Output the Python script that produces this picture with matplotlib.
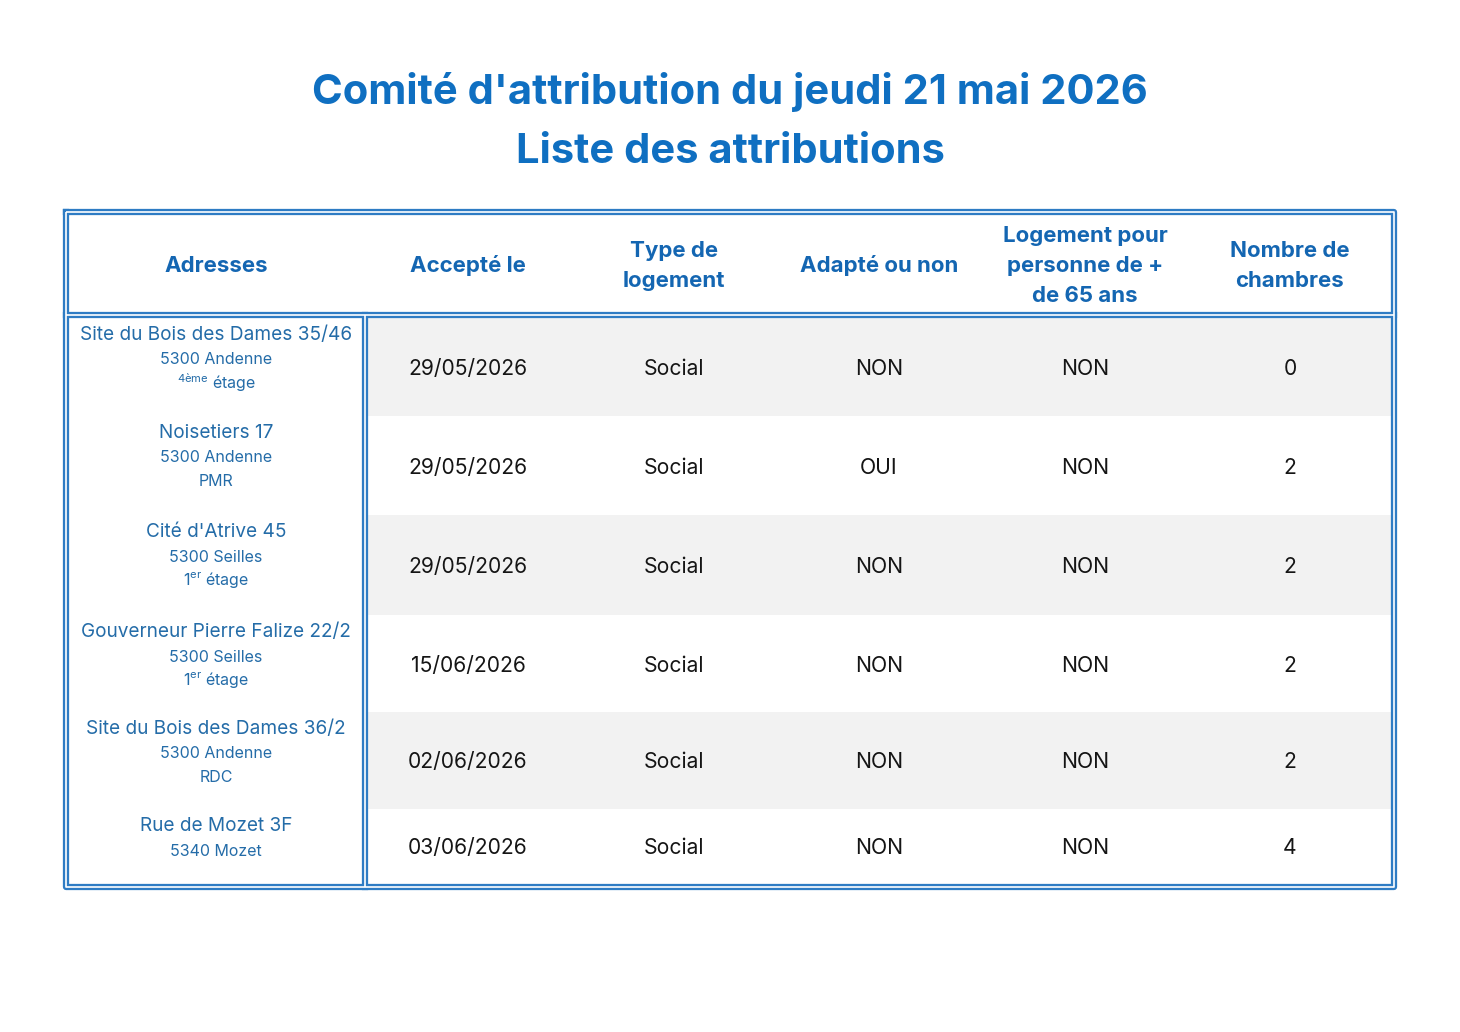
import matplotlib
matplotlib.use("Agg")
import matplotlib.pyplot as plt

FONT = "Inter"
plt.rcParams['font.family'] = [FONT, 'DejaVu Sans']
plt.rcParams['mathtext.fontset'] = 'custom'
plt.rcParams['mathtext.rm'] = FONT
plt.rcParams['mathtext.it'] = FONT
plt.rcParams['mathtext.bf'] = FONT + ':bold'

title_lines = ["Comité d'attribution du jeudi 21 mai 2026", "Liste des attributions"]
headers = ["Adresses", "Accepté le", "Type de\nlogement", "Adapté ou non",
           "Logement pour\npersonne de +\nde 65 ans", "Nombre de\nchambres"]
addr_street = ["Site du Bois des Dames 35/46", "Noisetiers 17", "Cité d'Atrive 45",
               "Gouverneur Pierre Falize 22/2", "Site du Bois des Dames 36/2", "Rue de Mozet 3F"]
addr_city = ["5300 Andenne", "5300 Andenne", "5300 Seilles", "5300 Seilles",
             "5300 Andenne", "5340 Mozet"]
addr_floor_sup = ["4ème", "", "er", "er", "", ""]
addr_floor_main = ["étage", "PMR", "1", "1", "RDC", ""]
addr_floor_after = ["", "", "étage", "étage", "", ""]
dates = ["29/05/2026", "29/05/2026", "29/05/2026", "15/06/2026", "02/06/2026", "03/06/2026"]
types = ["Social"] * 6
adapted = ["NON", "OUI", "NON", "NON", "NON", "NON"]
senior = ["NON"] * 6
rooms = ["0", "2", "2", "2", "2", "4"]

W, H = 1460, 1032
fig = plt.figure(figsize=(W / 100, H / 100), dpi=100)
ax = fig.add_axes([0, 0, 1, 1])
ax.set_xlim(0, W)
ax.set_ylim(H, 0)
ax.axis('off')

TITLE_C = "#0F6FC1"
HEAD_C = "#1466B2"
ADDR_C = "#246CA8"
BORDER_C = "#2E7CC4"
GRAY = "#F2F2F2"

# layout (pixels)
col_x = [216, 468, 674, 879, 1085, 1290]
row_edges = [318, 416, 515, 615, 712, 809, 884]
left, right, top, bottom = 66, 1394, 212, 887
sep_x = 365
head_bottom = 315

# gray stripes
for i in range(len(dates)):
    if i % 2 == 0:
        ax.add_patch(plt.Rectangle((sep_x + 3, row_edges[i]), right - 3 - (sep_x + 3),
                                   row_edges[i + 1] - row_edges[i], color=GRAY, lw=0, zorder=1))

def dline(xs, ys):
    ax.plot(xs, ys, color=BORDER_C, lw=4.5, solid_capstyle='projecting', zorder=3)
    ax.plot(xs, ys, color="white", lw=1.2, solid_capstyle='butt', zorder=4)

dline([left, right, right, left, left], [top, top, bottom, bottom, top])
dline([left, right], [head_bottom, head_bottom])
dline([sep_x, sep_x], [head_bottom, bottom])

# title
ax.text(730, 92, title_lines[0], ha='center', va='center', fontsize=30,
        fontweight='bold', color=TITLE_C)
ax.text(730, 152, title_lines[1], ha='center', va='center', fontsize=30,
        fontweight='bold', color=TITLE_C)

# headers
for x, h in zip(col_x, headers):
    ax.text(x, 266, h, ha='center', va='center', fontsize=16, fontweight='bold',
            color=HEAD_C, linespacing=1.62)

# rows
for i in range(len(dates)):
    yc = (row_edges[i] + row_edges[i + 1]) / 2 + 2
    for x, val in zip(col_x[1:], [dates[i], types[i], adapted[i], senior[i], rooms[i]]):
        ax.text(x, yc, val, ha='center', va='center', fontsize=15.2, color="#151515")
    y0 = row_edges[i] + 17
    ax.text(col_x[0], y0, addr_street[i], ha='center', va='center', fontsize=13.7, color=ADDR_C)
    ax.text(col_x[0], y0 + 25, addr_city[i], ha='center', va='center', fontsize=11.5, color=ADDR_C)
    sup, main, after = addr_floor_sup[i], addr_floor_main[i], addr_floor_after[i]
    if main:
        if sup and not after:
            s = r"$^{\mathrm{" + sup + r"}}$ " + main
        elif sup:
            s = main + r"$^{\mathrm{" + sup + r"}}$ " + after
        else:
            s = main
        ax.text(col_x[0], y0 + 48, s, ha='center', va='center', fontsize=11.5, color=ADDR_C)

fig.savefig("out.png", dpi=100, facecolor="white")
